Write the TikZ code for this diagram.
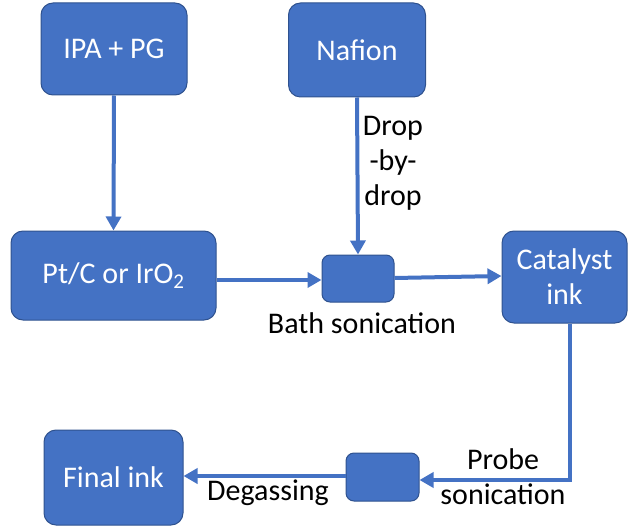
\documentclass[tikz,border=0pt]{standalone}
\usepackage{fontspec}
\setmainfont{Carlito}
\usetikzlibrary{arrows.meta}
\definecolor{boxfill}{HTML}{4472C4}
\definecolor{boxline}{HTML}{2F528F}
\tikzset{
  bigbox/.style={draw=boxline, line width=1pt, fill=boxfill, rounded corners=12pt, text=white, font=\fontsize{30}{35}\selectfont, align=center, inner sep=0pt},
  smallbox/.style={draw=boxline, line width=1pt, fill=boxfill, rounded corners=8pt, inner sep=0pt},
  flow/.style={draw=boxfill, line width=4pt, -{Triangle[length=14pt,width=15pt]}},
  lbl/.style={font=\fontsize{30}{35}\selectfont, text=black, align=center, inner sep=0pt}
}
\begin{document}
\begin{tikzpicture}[x=1pt,y=-1pt]
\useasboundingbox (0,0) rectangle (628,529);
\node[bigbox, minimum width=146pt, minimum height=92pt] (ipa) at (114,49) {IPA + PG};
\node[bigbox, minimum width=137pt, minimum height=94pt] (naf) at (357,50) {Nafion};
\node[bigbox, minimum width=205pt, minimum height=89pt] (pt) at (113.5,275.5) {Pt/C or IrO\textsubscript{2}};
\node[smallbox, minimum width=72pt, minimum height=47pt] (bath) at (358,278.5) {};
\node[bigbox, minimum width=125pt, minimum height=92pt] (cat) at (564.5,277) {Catalyst\\ink};
\node[smallbox, minimum width=73pt, minimum height=48pt] (probe) at (382.5,477) {};
\node[bigbox, minimum width=139pt, minimum height=95pt] (fin) at (113.5,477.5) {Final ink};
\node[lbl] (bathl) at (362,323) {Bath sonication};
\node[lbl] (dropl) at (393,163) {Drop\\-by-\\drop};
\node[lbl] (probel) at (503,477) {Probe\\sonication};
\node[lbl] (degl) at (268,493) {Degassing};
\coordinate (corner) at (570,480);
\draw[flow] (ipa.south) -- (pt.north);
\draw[flow] (naf.south) -- (bath.north);
\draw[flow] (pt.east |- 0,280) -- (bath.west |- 0,280);
\draw[flow] (bath.east |- 0,278) -- (cat.west |- 0,276);
\draw[flow] (cat.south -| corner) -- (corner) -- (probe.east |- corner);
\draw[flow] (probe.west |- 0,476) -- (fin.east |- 0,476);
\end{tikzpicture}
\end{document}
